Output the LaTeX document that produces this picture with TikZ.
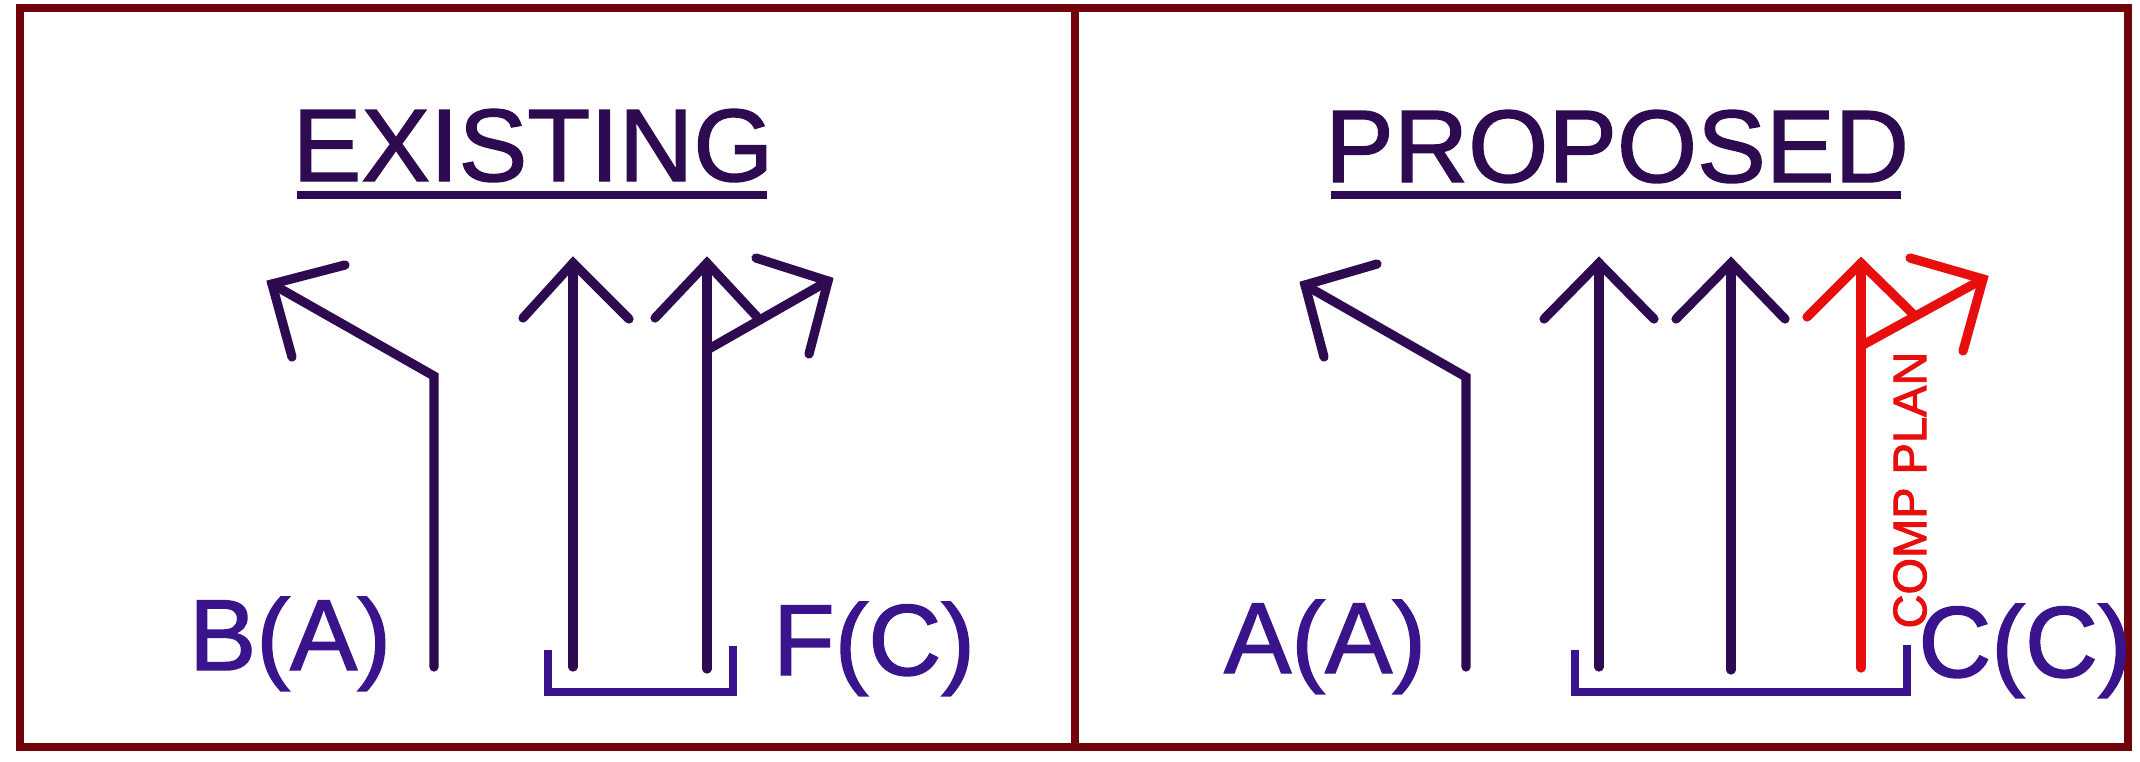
\documentclass[tikz,border=0pt]{standalone}
\usepackage{fontspec}
\setmainfont{Liberation Sans}
\newfontfamily\heavyfont{Liberation Sans}[FakeBold=1.4]
\newfontfamily\planfont{Liberation Sans}[FakeBold=2]
\definecolor{framered}{RGB}{112,4,10}
\definecolor{arrowpurple}{RGB}{46,10,80}
\definecolor{labelblue}{RGB}{58,20,140}
\definecolor{planred}{RGB}{232,14,14}
\begin{document}
\begin{tikzpicture}[x=0.5pt,y=-0.5pt,
  frame/.style={draw=framered,line width=4pt},
  lane/.style={draw=arrowpurple,line width=4.6pt,line cap=round,line join=miter},
  redlane/.style={lane,draw=planred},
  brk/.style={draw=labelblue,line width=3.8pt,line join=miter},
  uline/.style={draw=arrowpurple,line width=3.6pt},
  title/.style={font=\heavyfont\fontsize{51.5pt}{60pt}\selectfont,text=arrowpurple,inner sep=0pt,anchor=base},
  lbl/.style={font=\heavyfont\fontsize{50.5pt}{60pt}\selectfont,text=labelblue,inner sep=0pt,anchor=base}]
\useasboundingbox (0,0) rectangle (2140,761);
\fill[white] (0,0) rectangle (2140,761);
% frame
\draw[frame] (20,8) rectangle (2128,747);
\draw[frame] (1075,8) -- (1075,747);
% titles
\node[title] (ex) at (533,181) {EXISTING};
\coordinate (exl) at (297,195); \coordinate (exr) at (767,195);
\draw[uline] (exl) -- (exr);
\node[title] (pr) at (1617,182) {PROPOSED};
\coordinate (prl) at (1331,195); \coordinate (prr) at (1901,195);
\draw[uline] (prl) -- (prr);
% ---------- existing ----------
\coordinate (a1b) at (434,667); \coordinate (a1k) at (434,376); \coordinate (a1t) at (272,284);
\draw[lane] (a1b) -- (a1k) -- (a1t);
\draw[lane] (345,265) -- (a1t) -- (292,357);
\coordinate (a2b) at (573,667); \coordinate (a2t) at (573,263);
\draw[lane] (a2b) -- (a2t);
\draw[lane] (523,318) -- (a2t) -- (629,319);
\coordinate (a3b) at (707,669); \coordinate (a3t) at (707,263);
\coordinate (a3j) at (707,350); \coordinate (a3r) at (828,281);
\draw[lane] (a3b) -- (a3t);
\draw[lane] (655,318) -- (a3t) -- (760,320);
\draw[lane] (a3j) -- (a3r);
\draw[lane] (756,258) -- (a3r) -- (809,354);
\draw[brk] (548,650) -- (548,692) -- (733,692) -- (733,646);
\node[lbl] (ba) at (290,670) {B(A)};
\node[lbl] (fc) at (874,675) {F(C)};
% ---------- proposed ----------
\coordinate (b1b) at (1466,667); \coordinate (b1k) at (1466,377); \coordinate (b1t) at (1305,285);
\draw[lane] (b1b) -- (b1k) -- (b1t);
\draw[lane] (1377,264) -- (b1t) -- (1324,357);
\coordinate (b2b) at (1599,667); \coordinate (b2t) at (1599,263);
\draw[lane] (b2b) -- (b2t);
\draw[lane] (1544,319) -- (b2t) -- (1654,319);
\coordinate (b3b) at (1731,670); \coordinate (b3t) at (1731,263);
\draw[lane] (b3b) -- (b3t);
\draw[lane] (1676,319) -- (b3t) -- (1785,319);
\coordinate (b4b) at (1861,668); \coordinate (b4t) at (1861,263);
\coordinate (b4j) at (1861,346); \coordinate (b4r) at (1983,279);
\draw[redlane] (b4b) -- (b4t);
\draw[redlane] (1807,317) -- (b4t) -- (1915,316);
\draw[redlane] (b4j) -- (b4r);
\draw[redlane] (1910,258) -- (b4r) -- (1963,351);
\draw[brk] (1575,650) -- (1575,692) -- (1907,692) -- (1907,645);
\node[lbl] (aa) at (1325,673) {A(A)};
\node[lbl] (cc) at (2025,677) {C(C)};
\node[font=\planfont\fontsize{23.5pt}{28pt}\selectfont,text=planred,rotate=90,inner sep=0pt] (cp) at (1910,490) {COMP PLAN};
\end{tikzpicture}
\end{document}
